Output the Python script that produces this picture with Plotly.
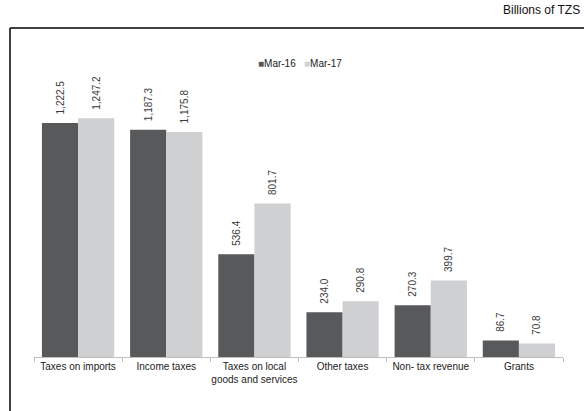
import plotly.graph_objects as go

# Government revenue by source, billions of TZS
categories = ["Taxes on imports", "Income taxes", "Taxes on local<br>goods and services",
              "Other taxes", "Non- tax revenue", "Grants"]
mar16 = [1222.5, 1187.3, 536.4, 234.0, 270.3, 86.7]
mar17 = [1247.2, 1175.8, 801.7, 290.8, 399.7, 70.8]

W, H = 584, 411
L, R, T, B = 34, 21, 50, 54
pw, ph = W - L - R, H - T - B


def px_x(x):
    return (x - L) / pw


def px_y(y):
    return (H - B - y) / ph


NBSP = "\u00a0"
series = [("Mar-16", mar16, "#58595b"), ("Mar-17", mar17, "#cfd0d2")]

fig = go.Figure()
for name, vals, color in series:
    fig.add_trace(go.Bar(
        x=categories, y=vals, name=name, marker_color=color, marker_line_width=0,
        # leading spaces lift the rotated value labels off the bar tops
        text=[NBSP * 2 + f"{v:,.1f}" for v in vals], textposition="outside", textangle=-90,
        textfont=dict(size=10, color="#3a3a3a", family="Liberation Sans, Arial"),
        constraintext="none", cliponaxis=False, showlegend=False,
    ))

# compact inline legend: coloured square keys followed by series names
legend_text = (NBSP * 3).join(
    f"<span style='color:{color}'>■</span>{name}" for name, _, color in series
)

fig.update_layout(
    width=W, height=H,
    margin=dict(l=L, r=R, t=T, b=B, autoexpand=False),
    paper_bgcolor="white", plot_bgcolor="white",
    barmode="group", bargap=0.18, bargroupgap=0,
    font=dict(family="Liberation Sans, Arial", size=10, color="#222222"),
    showlegend=False,
    xaxis=dict(showline=True, linecolor="#bfbfbf", linewidth=1, ticks="outside",
               tickcolor="#bfbfbf", ticklen=4, tickson="boundaries", tickangle=0,
               automargin=False, tickfont=dict(size=10, color="#222222"), showgrid=False),
    yaxis=dict(range=[0, 1604], visible=False, showgrid=False),
    annotations=[
        dict(text="Billions of TZS", x=px_x(582), y=px_y(10), xref="paper", yref="paper",
             xanchor="right", yanchor="middle", showarrow=False,
             font=dict(size=12, color="#111111")),
        dict(text=legend_text, x=px_x(300), y=px_y(63), xref="paper", yref="paper",
             xanchor="center", yanchor="middle", showarrow=False,
             font=dict(size=10, color="#222222")),
    ],
    shapes=[
        dict(type="line", xref="paper", yref="paper", x0=px_x(10), x1=px_x(10),
             y0=px_y(28), y1=px_y(415), line=dict(color="black", width=1.5)),
        dict(type="line", xref="paper", yref="paper", x0=px_x(10), x1=px_x(590),
             y0=px_y(28), y1=px_y(28), line=dict(color="black", width=1.5)),
    ],
)

fig.write_html("out.html")
